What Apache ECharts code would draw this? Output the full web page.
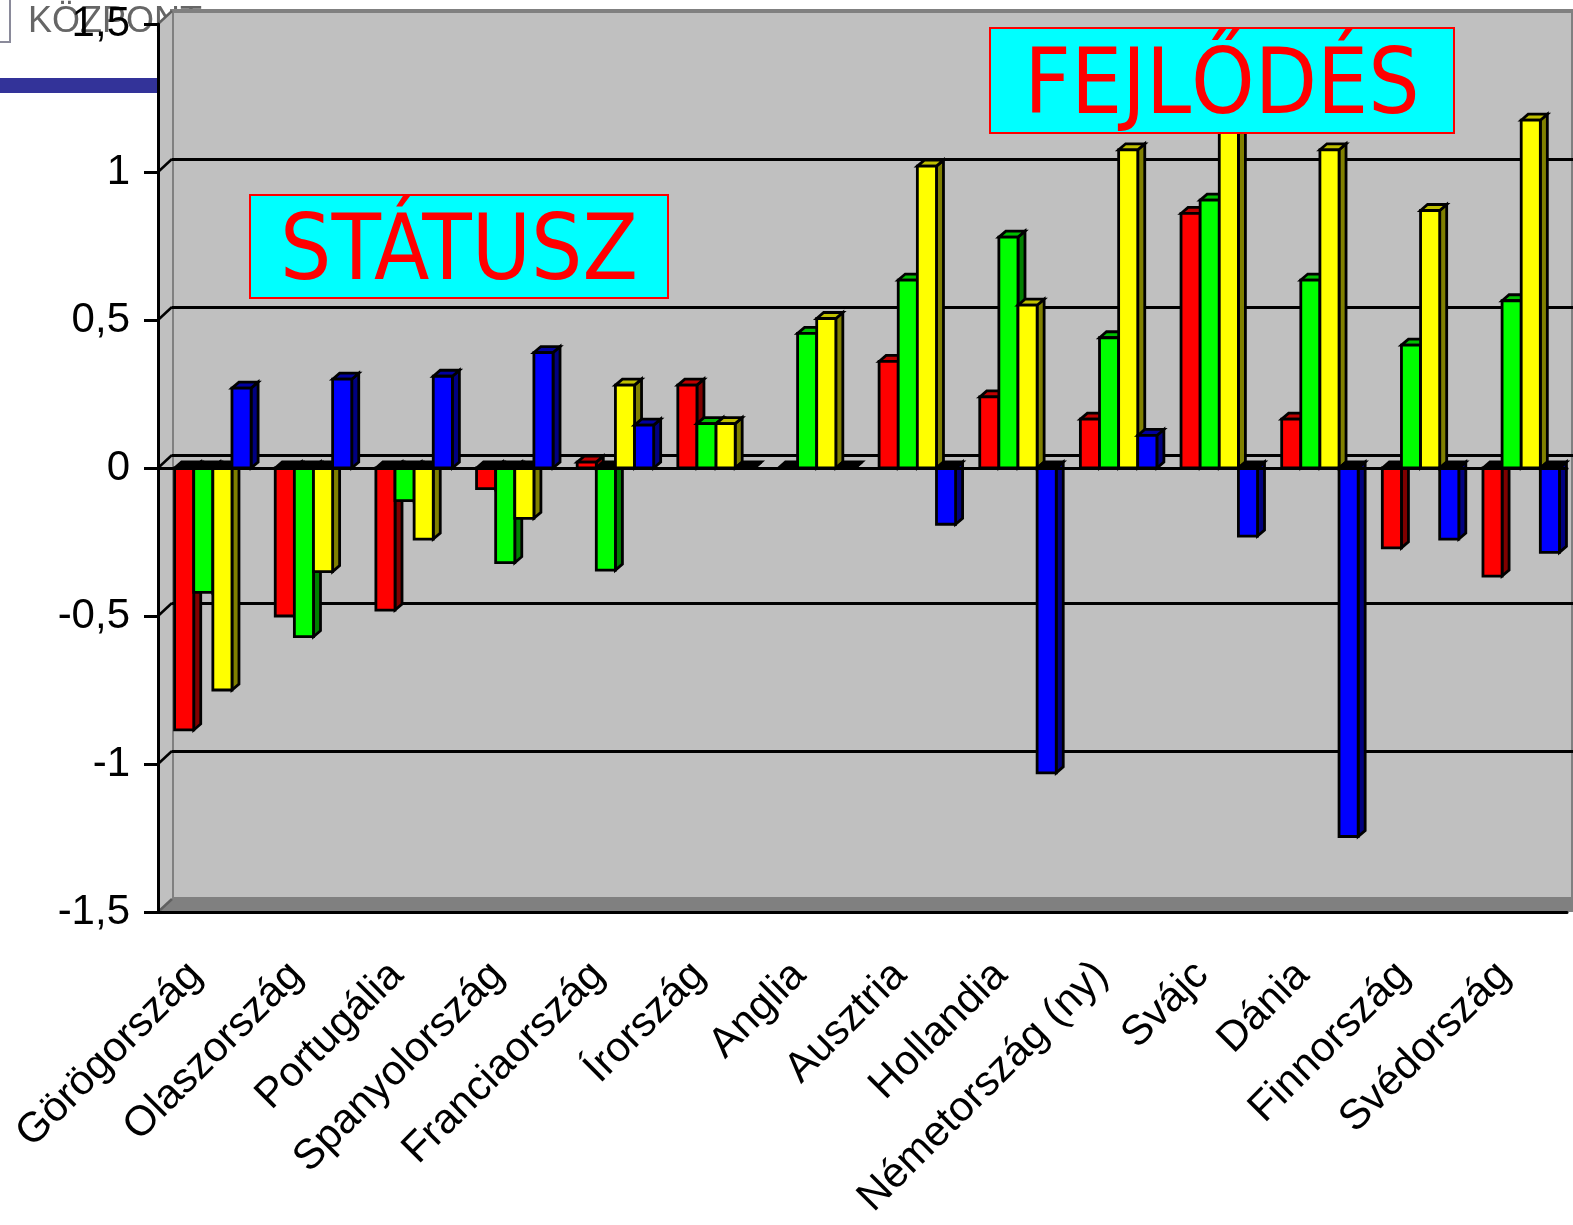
<!DOCTYPE html>
<html>
<head>
<meta charset="utf-8">
<script src="https://cdn.jsdelivr.net/npm/echarts@6/dist/echarts.min.js"></script>
<style>
  html, body { margin: 0; padding: 0; background: #fff; }
  #chart { width: 1573px; height: 1225px; }
</style>
</head>
<body>
<div id="chart"></div>
<script>
const categories = ['Görögország', 'Olaszország', 'Portugália', 'Spanyolország', 'Franciaország', 'Írország', 'Anglia',
    'Ausztria', 'Hollandia', 'Németország (ny)', 'Svájc', 'Dánia', 'Finnország', 'Svédország'];
const redValues = [-0.885, -0.50, -0.48, -0.07, 0.02, 0.28, 0, 0.36, 0.24, 0.165, 0.86, 0.165, -0.27, -0.365];
const greenValues = [-0.42, -0.57, -0.11, -0.32, -0.345, 0.15, 0.455, 0.635, 0.78, 0.44, 0.905, 0.635, 0.415, 0.565];
const yellowValues = [-0.75, -0.35, -0.24, -0.17, 0.28, 0.15, 0.505, 1.02, 0.55, 1.075, 1.22, 1.075, 0.87, 1.175];
const blueValues = [0.27, 0.30, 0.31, 0.39, 0.145, 0, 0, -0.19, -1.03, 0.11, -0.23, -1.245, -0.24, -0.285];
const yTicks = [-1.5, -1, -0.5, 0, 0.5, 1, 1.5];

// elülső tengelyek helye és a hátfal eltolása (3D hatás)
const L = 158, T = 24, RIGHT = 6, BOTTOM = 313;
const B = 1225 - BOTTOM, R = 1573 - RIGHT;
const DX = 14, DY = -13;

const chart = echarts.init(document.getElementById('chart'));

const makeRender = (idx, front, top, side) => (params, api) => {
    const i = api.value(0);
    const v = api.value(1);
    const band = api.size([1, 0])[0];
    const base = api.coord([i, 0]);
    const end = api.coord([i, v]);
    const w = band * 0.19;
    const x = base[0] + band * (-0.335 + idx * 0.19);
    const yTop = Math.min(base[1], end[1]);
    const yBot = Math.max(base[1], end[1]);
    const dx = 7, dy = -6;
    const line = { stroke: '#000', lineWidth: 2.8, lineJoin: 'miter' };
    const children = [
        { type: 'polygon', shape: { points: [[x + w, yTop], [x + w + dx, yTop + dy], [x + w + dx, yBot + dy], [x + w, yBot]] },
          style: Object.assign({ fill: side }, line) },
        { type: 'polygon', shape: { points: [[x, yTop], [x + dx, yTop + dy], [x + w + dx, yTop + dy], [x + w, yTop]] },
          style: Object.assign({ fill: v > 0 ? top : '#000' }, line) }
    ];
    if (yBot - yTop > 0.5) {
        children.push({ type: 'rect', shape: { x: x, y: yTop, width: w, height: yBot - yTop },
            style: Object.assign({ fill: front }, line) });
    }
    return { type: 'group', children };
};

const seriesDefs = [
    { name: 'piros', data: redValues, colors: ['#ff0000', '#c00000', '#800000'] },
    { name: 'zöld', data: greenValues, colors: ['#00ff00', '#00c000', '#008000'] },
    { name: 'sárga', data: yellowValues, colors: ['#ffff00', '#c0c000', '#808000'] },
    { name: 'kék', data: blueValues, colors: ['#0000ff', '#0000a0', '#000080'] }
];

const series = seriesDefs.map((s, idx) => ({
    name: s.name,
    type: 'custom',
    xAxisIndex: 0,
    yAxisIndex: 0,
    z: 5,
    renderItem: makeRender(idx, s.colors[0], s.colors[1], s.colors[2]),
    encode: { x: 0, y: 1 },
    data: s.data.map((v, i) => [i, v])
}));

const yAt = v => T + (yTicks[yTicks.length - 1] - v) * (B - T) / (yTicks[yTicks.length - 1] - yTicks[0]);
const wallLines = yTicks.map(v => ({
    type: 'line',
    z: 2,
    shape: { x1: L, y1: yAt(v), x2: L + DX, y2: yAt(v) + DY },
    style: { stroke: (v === yTicks[0] || v === yTicks[yTicks.length - 1]) ? '#606060' : '#000', lineWidth: 2.5 }
}));

const labelBox = (x, y, w, h, text) => ({
    type: 'group',
    z: 20,
    children: [
        { type: 'rect', z: 20, shape: { x, y, width: w, height: h }, style: { fill: '#00ffff', stroke: '#ff0000', lineWidth: 2 } },
        { type: 'text', z: 21, style: { text, x: x + w / 2, y: y + h / 2 + 9, align: 'center', verticalAlign: 'middle',
            font: "90px 'DejaVu Sans Condensed', 'Liberation Sans Narrow', sans-serif", fill: '#ff0000' } }
    ]
});

const option = {
    animation: false,
    backgroundColor: '#ffffff',
    grid: [
        { left: L, top: T, right: RIGHT, bottom: BOTTOM },
        { left: L + DX, top: T + DY, right: RIGHT - DX, bottom: BOTTOM - DY, show: true,
          backgroundColor: '#c0c0c0', borderColor: '#808080', borderWidth: 4 }
    ],
    xAxis: [
        {
            gridIndex: 0, type: 'category', data: categories, position: 'bottom', z: 10,
            axisLine: { onZero: false, lineStyle: { color: '#000', width: 3 } },
            axisTick: { length: 13, lineStyle: { color: '#000', width: 3 } },
            axisLabel: { interval: 0, rotate: 45, margin: 44, padding: [0, 18, 0, 0], color: '#000',
                fontSize: 42, fontFamily: 'Liberation Sans' }
        },
        {
            gridIndex: 0, type: 'category', data: categories, position: 'top', z: 10,
            axisLine: { onZero: true, lineStyle: { color: '#000', width: 3 } },
            axisTick: { inside: true, length: 12, lineStyle: { color: '#000', width: 3 } },
            axisLabel: { show: false }
        },
        { gridIndex: 1, type: 'category', data: categories, show: false }
    ],
    yAxis: [
        {
            gridIndex: 0, type: 'value', min: yTicks[0], max: yTicks[yTicks.length - 1], interval: 0.5, z: 10,
            axisLine: { show: true, lineStyle: { color: '#000', width: 3 } },
            axisTick: { show: true, length: 14, lineStyle: { color: '#000', width: 3 } },
            axisLabel: { margin: 28, color: '#000', fontSize: 42, fontFamily: 'Liberation Sans',
                formatter: v => String(v).replace('.', ',') },
            splitLine: { show: false }
        },
        {
            gridIndex: 1, type: 'value', min: yTicks[0], max: yTicks[yTicks.length - 1], interval: 0.5,
            axisLine: { show: false }, axisTick: { show: false }, axisLabel: { show: false },
            splitLine: { show: true, showMinLine: false, showMaxLine: false, lineStyle: { color: '#000', width: 3 } }
        }
    ],
    graphic: [
        // a háttérben látszó dia-részlet
        { type: 'rect', z: -10, shape: { x: -2, y: -2, width: 12, height: 44 }, style: { fill: '#fff', stroke: '#8a8a9a', lineWidth: 2 } },
        { type: 'text', z: -10, style: { text: 'KÖZPONT', x: 28, y: 40, verticalAlign: 'bottom', font: '36px Liberation Sans', fill: '#666' } },
        { type: 'rect', z: -10, shape: { x: 0, y: 78, width: L, height: 15 }, style: { fill: '#333399' } },
        // oldalfal és padló
        { type: 'polygon', z: 1, shape: { points: [[L, T], [L + DX, T + DY], [L + DX, B + DY], [L, B]] }, style: { fill: '#c0c0c0' } },
        { type: 'polygon', z: 1, shape: { points: [[L, B], [L + DX, B + DY], [R + DX + 30, B + DY], [R + 30, B]] }, style: { fill: '#808080' } },
        ...wallLines,
        labelBox(250, 195, 418, 103, 'STÁTUSZ'),
        labelBox(990, 28, 464, 105, 'FEJLŐDÉS')
    ],
    series
};

chart.setOption(option);
</script>
</body>
</html>
